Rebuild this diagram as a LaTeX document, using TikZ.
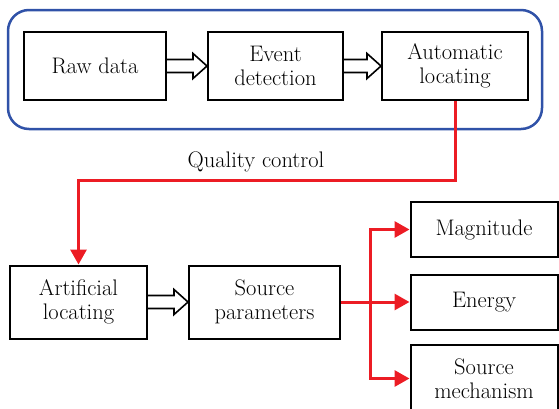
\documentclass[tikz,border=0pt]{standalone}
\usetikzlibrary{arrows.meta,calc}
\definecolor{frameblue}{RGB}{48,82,168}
\definecolor{linered}{RGB}{236,28,36}
\begin{document}
\begin{tikzpicture}[x=1pt,y=-1pt,
  box/.style={draw=black,line width=2pt,rectangle,inner sep=0pt,align=center,
    font=\fontsize{22.5}{24}\selectfont},
  frame/.style={draw=frameblue,line width=2.5pt,rounded corners=21pt,rectangle,inner sep=0pt},
  redarrow/.style={draw=linered,line width=3pt,-{Triangle[length=15pt,width=16pt]}},
  hollow/.style={draw=black,line width=1.6pt,fill=white,line join=miter},
  lbl/.style={font=\fontsize{22.5}{24}\selectfont,inner sep=0pt}
]
\useasboundingbox (0,0) rectangle (559,408);
\node[frame,minimum width=534pt,minimum height=119pt] (grp) at (275,69.5) {};
\node[box,minimum width=142pt,minimum height=68pt] (raw) at (95,66) {Raw data};
\node[box,minimum width=135pt,minimum height=68pt] (event) at (275.5,66) {Event\\detection};
\node[box,minimum width=146pt,minimum height=68pt] (auto) at (455,66) {Automatic\\locating};
\node[box,minimum width=137pt,minimum height=73pt] (art) at (78.5,302) {Artificial\\locating};
\node[box,minimum width=151pt,minimum height=73pt] (src) at (264.5,302) {Source\\parameters};
\node[box,minimum width=147pt,minimum height=55pt] (mag) at (484,229.5) {Magnitude};
\node[box,minimum width=147pt,minimum height=55pt] (energy) at (484,302.5) {Energy};
\node[box,minimum width=147pt,minimum height=67pt] (mech) at (484,378.5) {Source\\mechanism};
\node[lbl] (qc) at (256,162) {Quality control};
% hollow block arrows
\newcommand\blockarrow[2]{%
  \draw[hollow] ([yshift=6.5pt]#1.east) -- ([xshift=-14pt,yshift=6.5pt]#2.west)
    -- ([xshift=-14pt,yshift=12.5pt]#2.west) -- (#2.west)
    -- ([xshift=-14pt,yshift=-12.5pt]#2.west) -- ([xshift=-14pt,yshift=-6.5pt]#2.west)
    -- ([yshift=-6.5pt]#1.east);}
\blockarrow{raw}{event}
\blockarrow{event}{auto}
\blockarrow{art}{src}
% quality control path
\coordinate (qcy) at (0,180);
\draw[redarrow] (auto.south) -- (auto.south |- qcy) -| (art.north);
% branch
\coordinate (br) at (370,302);
\draw[redarrow] (src.east) -- (src.east -| energy.west);
\draw[redarrow] (br) |- (mag.west);
\draw[redarrow] (br) |- (mech.west);
\end{tikzpicture}
\end{document}
